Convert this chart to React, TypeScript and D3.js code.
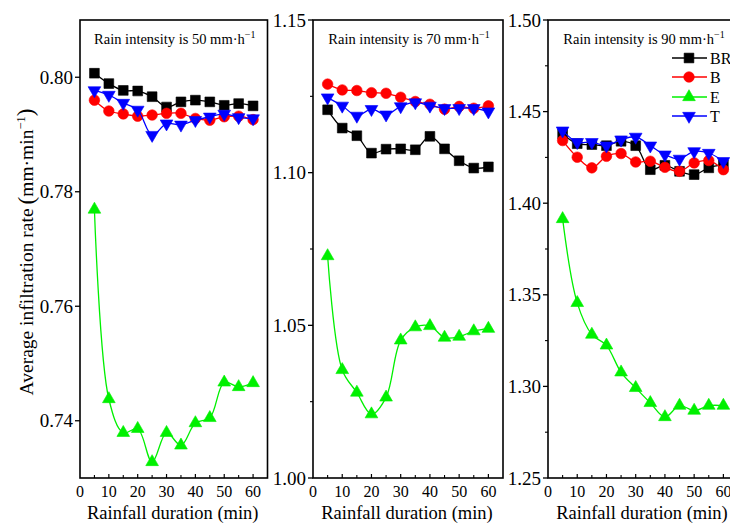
import React from "react";
import * as d3 from "d3";

// Rainfall duration (min)
const durations = [5, 10, 15, 20, 25, 30, 35, 40, 45, 50, 55, 60];

// 50 mm/h
const br50 = [0.8007, 0.7989, 0.7977, 0.7976, 0.7966, 0.7948, 0.7957, 0.796, 0.7957, 0.7951, 0.7954, 0.795];
const b50 = [0.796, 0.7941, 0.7936, 0.7932, 0.7934, 0.7937, 0.7937, 0.7928, 0.7925, 0.7931, 0.7932, 0.7926];
const e50 = [0.7769, 0.7438, 0.7379, 0.7386, 0.7328, 0.7379, 0.7357, 0.7396, 0.7405, 0.7467, 0.7459, 0.7466];
const t50 = [0.7977, 0.7969, 0.7955, 0.7943, 0.7899, 0.7919, 0.7917, 0.7925, 0.7931, 0.7936, 0.793, 0.7928];

// 70 mm/h
const br70 = [1.1206, 1.1146, 1.1121, 1.1064, 1.1077, 1.1078, 1.1075, 1.1119, 1.1078, 1.1039, 1.1015, 1.1019];
const b70 = [1.129, 1.1271, 1.1269, 1.1262, 1.126, 1.1247, 1.1233, 1.1224, 1.1208, 1.1217, 1.1211, 1.1219];
const e70 = [1.0727, 1.0354, 1.028, 1.0209, 1.0264, 1.0451, 1.0494, 1.0498, 1.046, 1.0463, 1.0481, 1.0489];
const t70 = [1.1246, 1.1219, 1.1186, 1.1208, 1.119, 1.1217, 1.123, 1.1219, 1.1211, 1.1211, 1.1211, 1.12];

// 90 mm/h
const br90 = [1.4378, 1.4325, 1.432, 1.4314, 1.4338, 1.4314, 1.4183, 1.4207, 1.4174, 1.4156, 1.4193, 1.421];
const b90 = [1.4342, 1.4251, 1.4193, 1.4256, 1.4271, 1.4225, 1.4229, 1.4196, 1.4174, 1.422, 1.4233, 1.4183];
const e90 = [1.3914, 1.3456, 1.3283, 1.3224, 1.3077, 1.2992, 1.291, 1.2833, 1.2895, 1.2868, 1.2895, 1.2895];
const t90 = [1.4396, 1.4333, 1.4333, 1.4314, 1.4347, 1.4362, 1.4314, 1.4265, 1.4242, 1.4283, 1.4274, 1.4229];

const intensities = [50, 70, 90];
const yDomains: [number, number][] = [[0.73, 0.81], [1.0, 1.15], [1.25, 1.5]];
const yMajorTicks = [
  [0.74, 0.76, 0.78, 0.8],
  [1.0, 1.05, 1.1, 1.15],
  [1.25, 1.3, 1.35, 1.4, 1.45, 1.5],
];
const yMinorTicks = [
  [] as number[],
  [1.025, 1.075, 1.125],
  [1.275, 1.325, 1.375, 1.425, 1.475],
];
const xTicks = [0, 10, 20, 30, 40, 50, 60];
const xMinor = [5, 15, 25, 35, 45, 55];
const seriesNames = ["BR", "B", "E", "T"];
const seriesData = [
  [br50, b50, e50, t50],
  [br70, b70, e70, t70],
  [br90, b90, e90, t90],
];

const COLORS = ["#000000", "#ff0000", "#00f000", "#0000ff"];
const SYMBOLS = [d3.symbolSquare, d3.symbolCircle, d3.symbolTriangle, d3.symbolTriangle];
const SIZES = [95, 88, 70, 70];
const ROT = [0, 0, 0, 180];

const W = 730;
const H = 523;
const TOP = 20;
const BOTTOM = 478;
const panelX: [number, number][] = [[80, 267.5], [313, 503], [548, 738]];
const FONT = "Liberation Serif, Times New Roman, DejaVu Serif, serif";

function Marker({ i, x, y }: { i: number; x: number; y: number }) {
  const path = d3.symbol().type(SYMBOLS[i]).size(SIZES[i])() || "";
  return (
    <path
      d={path}
      transform={`translate(${x},${y}) rotate(${ROT[i]})`}
      fill={COLORS[i]}
      stroke={COLORS[i]}
      strokeWidth={0.6}
    />
  );
}

function Panel({ p }: { p: number }) {
  const x = d3.scaleLinear().domain([0, 65]).range(panelX[p]);
  const y = d3.scaleLinear().domain(yDomains[p]).range([BOTTOM, TOP]);
  const [x0, x1] = panelX[p];
  const line = d3
    .line<number>()
    .x((_, k) => x(durations[k]))
    .y((v) => y(v))
    .curve(d3.curveCatmullRom.alpha(0.5));
  const cx = (x0 + x1) / 2;
  const drawOrder = [2, 0, 1, 3];
  return (
    <g>
      <defs>
        <clipPath id={`clip${p}`}>
          <rect x={x0} y={TOP} width={x1 - x0} height={BOTTOM - TOP} />
        </clipPath>
      </defs>
      {/* frame */}
      <rect x={x0} y={TOP} width={x1 - x0} height={BOTTOM - TOP} fill="none" stroke="#000" strokeWidth={1.6} />
      {/* y ticks */}
      {yMajorTicks[p].map((t) => (
        <g key={`ym${t}`}>
          <line x1={x0 - 5} x2={x0} y1={y(t)} y2={y(t)} stroke="#000" strokeWidth={1.3} />
          <text x={x0 - 7} y={y(t)} dy="0.35em" textAnchor="end" fontSize={19}>
            {d3.format(".2f")(t)}
          </text>
        </g>
      ))}
      {yMinorTicks[p].map((t) => (
        <line key={`yn${t}`} x1={x0 - 3} x2={x0} y1={y(t)} y2={y(t)} stroke="#000" strokeWidth={1.1} />
      ))}
      {/* x ticks */}
      {xTicks.map((t) => (
        <g key={`xm${t}`}>
          {t > 0 && <line x1={x(t)} x2={x(t)} y1={BOTTOM} y2={BOTTOM - 4} stroke="#000" strokeWidth={1.2} />}
          <text x={x(t)} y={497} textAnchor="middle" fontSize={16}>
            {t}
          </text>
        </g>
      ))}
      {xMinor.map((t) => (
        <line key={`xn${t}`} x1={x(t)} x2={x(t)} y1={BOTTOM} y2={BOTTOM - 3} stroke="#000" strokeWidth={1.1} />
      ))}
      <text x={cx - 1} y={518.5} textAnchor="middle" fontSize={18.5}>
        Rainfall duration (min)
      </text>
      {/* title */}
      <text x={cx + 1} y={44} textAnchor="middle" fontSize={14.5}>
        {`Rain intensity is ${intensities[p]} mm·h`}
        <tspan fontSize={10} dy={-6}>
          −1
        </tspan>
      </text>
      {/* series */}
      <g clipPath={`url(#clip${p})`}>
        {drawOrder.map((s) => (
          <g key={s}>
            <path d={line(seriesData[p][s]) || ""} fill="none" stroke={COLORS[s]} strokeWidth={1.3} />
            {seriesData[p][s].map((v, k) => (
              <Marker key={k} i={s} x={x(durations[k])} y={y(v)} />
            ))}
          </g>
        ))}
      </g>
    </g>
  );
}

function Legend() {
  const rows = [58, 77, 97, 116];
  return (
    <g>
      {seriesNames.map((n, i) => (
        <g key={n}>
          <line x1={672} x2={707} y1={rows[i]} y2={rows[i]} stroke={COLORS[i]} strokeWidth={1.3} />
          <Marker i={i} x={689} y={rows[i]} />
          <text x={710} y={rows[i]} dy="0.35em" fontSize={16}>
            {n}
          </text>
        </g>
      ))}
    </g>
  );
}

export default function App() {
  return (
    <svg
      width={W}
      height={H}
      fontFamily={FONT}
      style={{ position: "absolute", left: 0, top: 0, background: "#fff", fontFamily: FONT }}
    >
      <rect width={W} height={H} fill="#fff" />
      {[0, 1, 2].map((p) => (
        <Panel key={p} p={p} />
      ))}
      <Legend />
      <text transform="translate(33,252) rotate(-90)" textAnchor="middle" fontSize={19.5}>
        Average infiltration rate
        <tspan fontSize={23} dx={4} dy={1}>(</tspan>
        <tspan dy={-1}>mm·min</tspan>
        <tspan fontSize={12.5} dy={-8}>−1</tspan>
        <tspan fontSize={23} dy={8}>)</tspan>
      </text>
    </svg>
  );
}
